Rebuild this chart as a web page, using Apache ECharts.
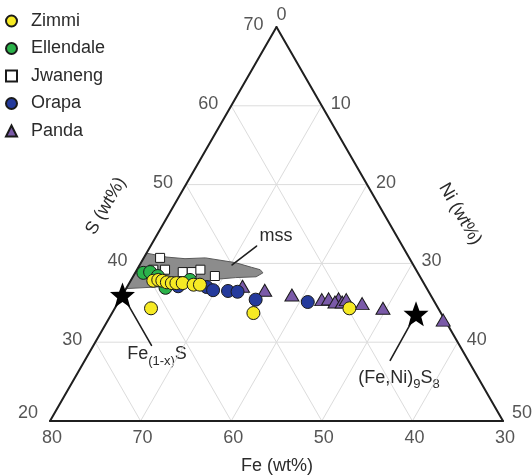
<!DOCTYPE html>
<html>
<head>
<meta charset="utf-8">
<script src="https://cdn.jsdelivr.net/npm/echarts@6/dist/echarts.min.js"></script>
<style>
html,body{margin:0;padding:0;background:#fff;}
#c{width:532px;height:476px;}
</style>
</head>
<body>
<div id="c"></div>
<script>
// Ternary data: each point is [S wt%, Ni wt%]; Fe wt% = 100 - S - Ni
const zimmi = [[37.8,2.5],[37.9,3.0],[37.8,3.5],[37.6,4.1],[37.5,4.7],[37.5,5.2],[37.5,5.9],[37.3,7.2],[37.3,7.9],[34.3,4.0],[33.7,15.6],[34.3,25.9]];
const ellendale = [[38.8,0.9],[38.9,1.6],[38.4,2.7],[36.9,4.3],[37.9,6.5]];
const jwaneng = [[40.7,1.8],[39.2,1.8],[39.2,3.1],[38.9,5.2],[38.9,6.2],[39.2,7.0],[38.4,9.0]];
const orapa = [[37.1,5.6],[37.0,8.8],[36.6,9.7],[36.5,11.4],[36.4,12.5],[35.4,15.0],[35.1,20.9]];
const panda = [[37.1,12.7],[36.6,15.4],[36.0,18.7],[35.4,22.3],[35.5,23.0],[35.5,24.1],[35.1,23.9],[35.1,24.7],[35.4,25.0],[34.9,27.0],[34.3,29.6],[32.8,37.0]];
const mssOutline = [[41.3,0],[40.8,2.5],[40.6,4.6],[40.7,6.8],[40.1,10.4],[39.5,12.5],[39.2,13.6],[38.8,14.1],[38.3,13.6],[38.2,11.4],[38.0,9.5],[37.6,7.7],[37.1,4.7],[36.8,0]];
const phasePoints = [[36.0,0.0],[33.6,33.6]];
const phaseLeaderEnds = [[29.6,6.4],[27.7,33.7]];
const mssLeader = [[42.2,11.7],[39.8,10.2]];
const sTicks = [20,30,40,50,60,70];
const niTicks = [0,10,20,30,40,50];
const feTicks = [80,70,60,50,40,30];
const gridS = [30,40,50,60];
const gridFe = [40,50,60,70];
const gridNi = [10,20,30,40];

function xy(S, Ni){ const y=(S-20)/50; return [Ni/50 + y/2, y]; }
function seg(a,b){ const p=xy(a[0],a[1]), q=xy(b[0],b[1]); return [p[0],p[1],q[0],q[1]]; }

const FONT = 'Liberation Sans, Arial, sans-serif';
const TXT = '#2b2b2b';
const FS = 18;
const gridSegs = [];
gridS.forEach(s=>gridSegs.push(seg([s,0],[s,70-s])));
gridFe.forEach(f=>gridSegs.push(seg([20,80-f],[100-f,0])));
gridNi.forEach(n=>gridSegs.push(seg([20,n],[70-n,n])));
const outlineSegs = [seg([20,0],[20,50]), seg([20,50],[70,0]), seg([70,0],[20,0])];
const leaderSegs = [seg(phasePoints[0],phaseLeaderEnds[0]), seg(phasePoints[1],phaseLeaderEnds[1]), seg(mssLeader[0],mssLeader[1])];

function segSeries(data, color, width, z){
  return {type:'custom', silent:true, z:z, data:data, renderItem:function(params, api){
    const p=api.coord([api.value(0),api.value(1)]), q=api.coord([api.value(2),api.value(3)]);
    return {type:'line', shape:{x1:p[0],y1:p[1],x2:q[0],y2:q[1]}, style:{stroke:color, lineWidth:width, lineCap:'round'}};
  }};
}

function sty(c){ return {color:c, borderColor:'#1a1a1a', borderWidth:1, opacity:1}; }
function pts(arr){ return arr.map(d=>xy(d[0],d[1])); }

const tickLabel = (vals, pos, off) => vals.map((v,i)=>{
  const p = pos(v);
  return {value:[p[0],p[1],String(v)], label:{offset:off(v,i)}};
});

const sLabels = tickLabel(sTicks, v=>xy(v,0), (v)=> v===20?[-22,-8]:[-23,-2]);
const niLabels = tickLabel(niTicks, v=>xy(70-v,v), (v)=> v===0?[5,-12]:(v===50?[19,-8]:[19,-2]));
const feLabels = tickLabel(feTicks, v=>xy(20,80-v), ()=>[2,17]);

const star = 'path://M0,-10 L2.6,-3.2 L9.5,-3.1 L4,1.4 L5.9,8.1 L0,4.2 L-5.9,8.1 L-4,1.4 L-9.5,-3.1 L-2.6,-3.2 Z';

const chart = echarts.init(document.getElementById('c'), null, {renderer:'canvas'});
chart.setOption({
  animation:false,
  backgroundColor:'#fff',
  textStyle:{fontFamily:FONT},
  grid:{left:50, right:29, top:27, bottom:55},
  xAxis:{type:'value', min:0, max:1, show:false},
  yAxis:{type:'value', min:0, max:1, show:false},
  legend:{
    orient:'vertical', left:0, top:7, itemWidth:11, itemHeight:11, itemGap:9.5,
    textStyle:{fontSize:FS, color:TXT, fontFamily:FONT, lineHeight:18, padding:[0,0,0,9]},
    data:['Zimmi','Ellendale','Jwaneng','Orapa','Panda']
  },
  series:[
    segSeries(gridSegs, '#dcdcdc', 1, 1),
    {type:'custom', silent:true, z:2, data:[0], renderItem:function(params, api){
      const points = mssOutline.map(d=>api.coord(xy(d[0],d[1])));
      return {type:'polygon', shape:{points:points}, style:{fill:'#8c8c8c', stroke:'#5a5a5a', lineWidth:1}};
    }},
    segSeries(outlineSegs, '#1f1f1f', 2, 3),
    segSeries(leaderSegs, '#1f1f1f', 1.6, 3),
    {name:'Panda', type:'scatter', z:4, symbol:'triangle', symbolSize:[14,12], data:pts(panda), itemStyle:sty('#7a5aa8')},
    {name:'Jwaneng', type:'scatter', z:5, symbol:'rect', symbolSize:9, data:pts(jwaneng), itemStyle:sty('#ffffff')},
    {name:'Orapa', type:'scatter', z:6, symbol:'circle', symbolSize:13, data:pts(orapa), itemStyle:sty('#243a9c')},
    {name:'Ellendale', type:'scatter', z:7, symbol:'circle', symbolSize:13, data:pts(ellendale), itemStyle:sty('#2bb24a')},
    {name:'Zimmi', type:'scatter', z:8, symbol:'circle', symbolSize:13, data:pts(zimmi), itemStyle:sty('#f6ea24')},
    {type:'scatter', z:9, silent:true, symbol:star, symbolSize:25, data:pts(phasePoints), itemStyle:{color:'#000', opacity:1}},
    {type:'scatter', z:9, silent:true, symbolSize:0, data:sLabels.concat(niLabels, feLabels),
      label:{show:true, position:'inside', formatter:p=>p.value[2], fontSize:FS, color:TXT, fontFamily:FONT}}
  ],
  graphic:[
    {type:'text', x:277, y:466, style:{text:'Fe (wt%)', fontSize:FS, fontFamily:FONT, fill:TXT, align:'center', verticalAlign:'middle'}},
    {type:'text', x:106, y:206, rotation:Math.PI/3, style:{text:'S (wt%)', fontSize:FS, fontFamily:FONT, fill:TXT, align:'center', verticalAlign:'middle'}},
    {type:'text', x:460, y:214, rotation:-Math.PI/3, style:{text:'Ni (wt%)', fontSize:FS, fontFamily:FONT, fill:TXT, align:'center', verticalAlign:'middle'}},
    {type:'text', x:276, y:236, style:{text:'mss', fontSize:FS, fontFamily:FONT, fill:TXT, align:'center', verticalAlign:'middle'}},
    {type:'text', x:157, y:354, style:{text:'{m|Fe}{s|(1-x)}{m|S}', fontFamily:FONT, fill:TXT, align:'center', verticalAlign:'middle',
      rich:{m:{fontSize:FS, fontFamily:FONT, fill:TXT}, s:{fontSize:13, fontFamily:FONT, fill:TXT, padding:[15,0,0,0]}}}},
    {type:'text', x:399, y:378, style:{text:'{m|(Fe,Ni)}{s|9}{m|S}{s|8}', fontFamily:FONT, fill:TXT, align:'center', verticalAlign:'middle',
      rich:{m:{fontSize:FS, fontFamily:FONT, fill:TXT}, s:{fontSize:13, fontFamily:FONT, fill:TXT, padding:[12,0,0,0]}}}}
  ]
});
</script>
</body>
</html>
